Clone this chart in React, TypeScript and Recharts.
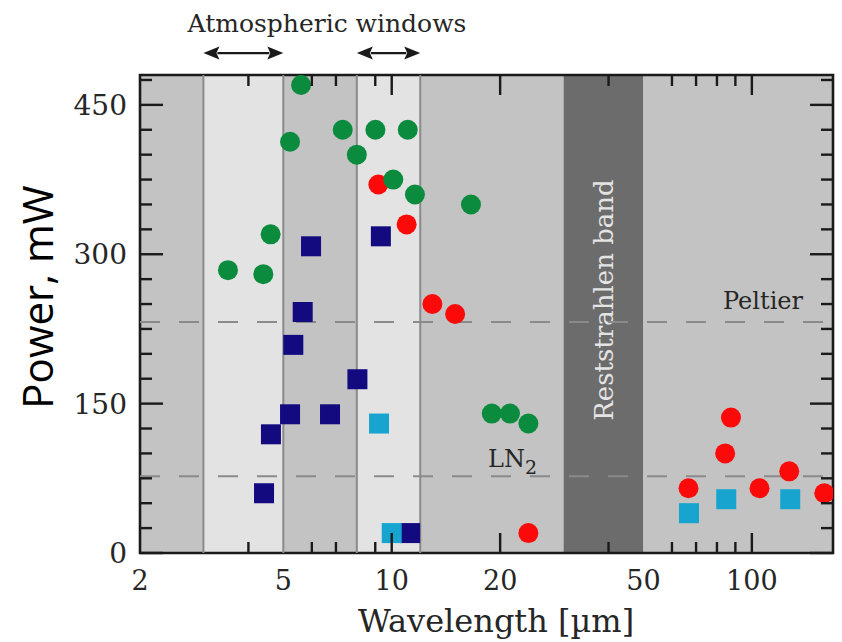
import React from 'react';
import { ScatterChart, Scatter, XAxis, YAxis, ReferenceArea, ReferenceLine } from 'recharts';

// ---- data ----
const bandEdges = [2, 3, 5, 8, 12, 30, 50, 168];
const bandFills = ['#c3c3c3', '#e3e3e3', '#c3c3c3', '#e3e3e3', '#c3c3c3', '#6c6c6c', '#c3c3c3'];
const bandNames = ['', '', '', '', '', 'Reststrahlen band', ''];
const windowLines = [3, 5, 8, 12];
const windowArrows = [[3, 5], [8, 12]];
const arrowLevel = 502;
const peltierLevel = 232;
const ln2Level = 77;

const greenW = [3.51, 4.40, 4.61, 5.22, 5.60, 7.31, 8.0, 9.01, 10.1, 11.08, 11.6, 16.6, 18.96, 21.3, 23.96];
const greenP = [284, 280, 320, 413, 470, 425, 400, 425, 375, 425, 360, 350, 140, 140, 130];
const redW = [9.18, 11.0, 12.97, 15.0, 23.96, 66.7, 84.3, 87.5, 105, 127, 158.9];
const redP = [370, 330, 250, 240, 20, 65, 100, 136, 65, 82, 60];
const navyW = [5.97, 9.33, 5.66, 5.33, 8.03, 5.22, 6.74, 4.62, 4.42, 11.25];
const navyP = [308, 318, 242, 209, 174.5, 139.3, 139.3, 119.2, 60, 20];
const cyanW = [9.22, 10.0, 66.9, 84.9, 127.8];
const cyanP = [130, 20, 40, 54, 54];

const xTicks = [2, 4, 5, 6, 7, 9, 10, 20, 40, 50, 60, 70, 80, 90, 100];
const xLabels = [2, 5, 10, 20, 50, 100];
const xMajor = [10, 20, 100];
const xMinor = [4, 6, 7, 9, 40, 60, 70, 80, 90];
const yTicks = [0, 25, 50, 75, 100, 125, 150, 175, 200, 225, 250, 275, 300, 325, 350, 375, 400, 425, 450, 475];
const yLabels = [0, 150, 300, 450];

const toPts = (w: number[], p: number[]) => w.map((v, i) => ({ w: v, p: p[i] }));
const greenData = toPts(greenW, greenP);
const redData = toPts(redW, redP);
const navyData = toPts(navyW, navyP);
const cyanData = toPts(cyanW, cyanP);

// ---- layout ----
const W = 842;
const H = 642;
const PLOT_W = 693;
const PLOT_H = 478;
const SERIF = '"DejaVu Serif", serif';
const INK = '#1a1a1a';
const TXT = '#262626';

const XTick = (props: any) => {
  const { x, y, payload } = props;
  const v = payload.value;
  const len = xMajor.includes(v) ? 20 : xMinor.includes(v) ? 11 : 0;
  return (
    <g>
      {len > 0 && <line x1={x} x2={x} y1={y} y2={y - len} stroke={INK} strokeWidth={2.4} />}
      {len > 0 && <line x1={x} x2={x} y1={y - PLOT_H} y2={y - PLOT_H + len} stroke={INK} strokeWidth={2.4} />}
      {xLabels.includes(v) && (
        <text x={x} y={y + 37} textAnchor="middle" fontFamily={SERIF} fontSize={27} fill={TXT}>
          {v}
        </text>
      )}
    </g>
  );
};

const YTick = (props: any) => {
  const { x, y, payload } = props;
  const v = payload.value;
  const len = yLabels.includes(v) ? 23 : 12;
  return (
    <g>
      <line x1={x} x2={x + len} y1={y} y2={y} stroke={INK} strokeWidth={2.4} />
      <line x1={x + PLOT_W - len} x2={x + PLOT_W} y1={y} y2={y} stroke={INK} strokeWidth={2.4} />
      {yLabels.includes(v) && (
        <text x={x - 13} y={y + 10} textAnchor="end" fontFamily={SERIF} fontSize={28} fill={TXT}>
          {v}
        </text>
      )}
    </g>
  );
};

const circleShape = (fill: string) => (p: any) => <circle cx={p.cx} cy={p.cy} r={10} fill={fill} />;
const squareShape = (fill: string) => (p: any) => <rect x={p.cx - 10} y={p.cy - 10} width={20} height={20} fill={fill} />;

const ArrowShape = (p: any) => {
  const { x1, y1, x2, y2 } = p;
  const hl = 16;
  const hw = 6.5;
  return (
    <g>
      <line x1={x1 + hl - 2} x2={x2 - hl + 2} y1={y1} y2={y2} stroke={INK} strokeWidth={2.2} />
      <polygon points={`${x1},${y1} ${x1 + hl},${y1 - hw} ${x1 + hl - 3},${y1} ${x1 + hl},${y1 + hw}`} fill={INK} />
      <polygon points={`${x2},${y2} ${x2 - hl},${y2 - hw} ${x2 - hl + 3},${y2} ${x2 - hl},${y2 + hw}`} fill={INK} />
    </g>
  );
};

const bandLabel = (name: string) => (p: any) => {
  if (!name) return null;
  const vb = p.viewBox || {};
  const cx = vb.x + vb.width / 2 + 10;
  const cy = vb.y + vb.height / 2 - 14;
  return (
    <text transform={`translate(${cx},${cy}) rotate(-90)`} textAnchor="middle" fontFamily={SERIF} fontSize={26} fill="#e4e4e4">
      {name}
    </text>
  );
};

const levelLabel = (kind: string) => (p: any) => {
  const vb = p.viewBox || {};
  if (kind === 'Peltier') {
    return (
      <text x={vb.x + vb.width - 30} y={vb.y - 13} textAnchor="end" fontFamily={SERIF} fontSize={24} fill={TXT}>
        Peltier
      </text>
    );
  }
  return (
    <text x={vb.x + 348} y={vb.y - 9} fontFamily={SERIF} fontSize={24} fill={TXT}>
      LN<tspan dy={7} fontSize={19}>2</tspan>
    </text>
  );
};

export default function App() {
  return (
    <div style={{ position: 'absolute', left: 0, top: 0, width: W, height: H, background: '#fff' }}>
      <ScatterChart width={W} height={H} margin={{ top: 75, right: 9, bottom: 0, left: 0 }}>
        <XAxis
          dataKey="w"
          type="number"
          scale="log"
          domain={[2, 168]}
          allowDataOverflow
          ticks={xTicks}
          interval={0}
          tick={XTick}
          tickLine={false}
          axisLine={false}
          tickSize={0}
          tickMargin={0}
          height={89}
        />
        <YAxis
          dataKey="p"
          type="number"
          domain={[0, 480]}
          allowDataOverflow
          ticks={yTicks}
          interval={0}
          tick={YTick}
          tickLine={false}
          axisLine={false}
          tickSize={0}
          tickMargin={0}
          width={140}
        />
        {bandFills.map((f, i) => (
          <ReferenceArea
            key={'b' + i}
            x1={bandEdges[i]}
            x2={bandEdges[i + 1]}
            y1={0}
            y2={480}
            fill={f}
            fillOpacity={1}
            stroke="none"
            ifOverflow="visible"
            label={bandLabel(bandNames[i])}
          />
        ))}
        {windowLines.map((x) => (
          <ReferenceLine key={'v' + x} x={x} stroke="#8a8a8a" strokeWidth={2} />
        ))}
        <ReferenceLine y={peltierLevel} stroke="#8a8a8a" strokeWidth={2} strokeDasharray="20 19" label={levelLabel('Peltier')} />
        <ReferenceLine y={ln2Level} stroke="#8a8a8a" strokeWidth={2} strokeDasharray="20 19" label={levelLabel('LN2')} />
        {windowArrows.map(([a, b]) => (
          <ReferenceLine
            key={'a' + a}
            segment={[{ x: a, y: arrowLevel }, { x: b, y: arrowLevel }]}
            ifOverflow="visible"
            shape={ArrowShape}
          />
        ))}
        <ReferenceArea
          x1={2}
          x2={168}
          y1={0}
          y2={480}
          fill="none"
          stroke={INK}
          strokeWidth={2.6}
          ifOverflow="visible"
        />
        <Scatter data={navyData} isAnimationActive={false} shape={squareShape('#140a80')} />
        <Scatter data={cyanData} isAnimationActive={false} shape={squareShape('#17a4cf')} />
        <Scatter data={redData} isAnimationActive={false} shape={circleShape('#fc0a0a')} />
        <Scatter data={greenData} isAnimationActive={false} shape={circleShape('#0b8b3d')} />
        <text x={327} y={32} textAnchor="middle" fontFamily={SERIF} fontSize={25} fill={TXT}>
          Atmospheric windows
        </text>
        <text x={496} y={632} textAnchor="middle" fontFamily={SERIF} fontSize={32} fill={TXT}>
          Wavelength [µm]
        </text>
        <text transform="translate(53,297) rotate(-90)" textAnchor="middle" fontFamily='"Open Sans", sans-serif' fontSize={42} fill="#000">
          Power, mW
        </text>
      </ScatterChart>
    </div>
  );
}
